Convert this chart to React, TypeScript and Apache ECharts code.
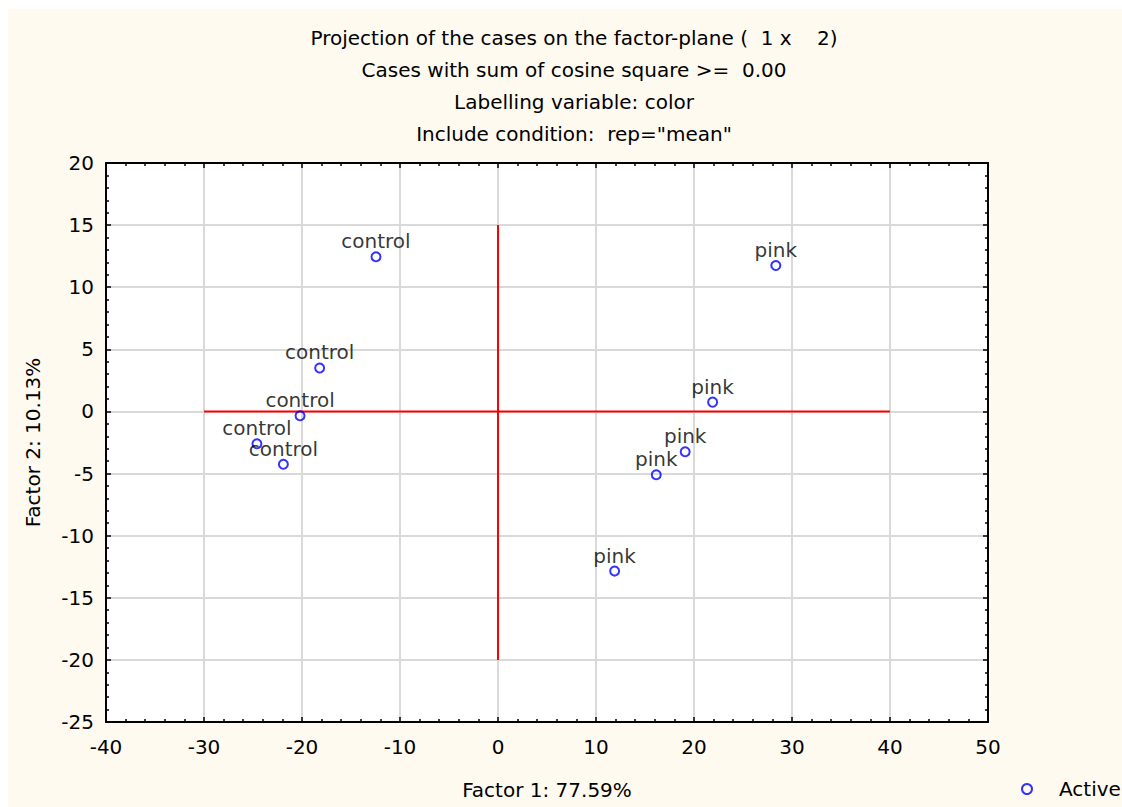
import React, { useEffect, useRef } from "react";
import * as echarts from "echarts";

const titleLines = [
  "Projection of the cases on the factor-plane (  1 x    2)",
  "Cases with sum of cosine square >=  0.00",
  "Labelling variable: color",
  'Include condition:  rep="mean"',
];

const caseLabels = [
  "control", "control", "control", "control", "control",
  "pink", "pink", "pink", "pink", "pink",
];
const factor1 = [-12.45, -18.2, -20.2, -24.6, -21.9, 28.35, 21.9, 19.1, 16.15, 11.9];
const factor2 = [12.45, 3.5, -0.35, -2.6, -4.25, 11.75, 0.75, -3.25, -5.1, -12.85];

const hLine = [[-30, 0], [40, 0]];
const vLine = [[0, 15], [0, -20]];

const xTicks = { min: -40, max: 50, interval: 10 };
const yTicks = { min: -25, max: 20, interval: 5 };

const FONT = "DejaVu Sans";

export default function App() {
  const ref = useRef<HTMLDivElement>(null);

  useEffect(() => {
    if (!ref.current) return;
    const chart = echarts.init(ref.current, undefined, { renderer: "svg" });

    const axisCommon = (extra: any) => ({
      type: "value",
      axisLine: { onZero: false, lineStyle: { color: "#000", width: 2 } },
      axisTick: { inside: true, length: 5, lineStyle: { color: "#000", width: 1.5 } },
      minorTick: { show: true, splitNumber: 5, length: 3, lineStyle: { color: "#000", width: 1.5 } },
      ...extra,
    });

    const grid = { left: 98, top: 154, width: 882, height: 559 };

    chart.setOption({
      animation: false,
      backgroundColor: "#FFFAF0",
      textStyle: { fontFamily: FONT },
      grid: { ...grid, show: true, backgroundColor: "#ffffff", borderWidth: 0 },
      graphic: titleLines.map((t, i) => ({
        type: "text",
        x: 566,
        y: 29 + i * 32,
        style: {
          text: t,
          fill: "#000",
          font: `20px "${FONT}"`,
          textAlign: "center",
          textVerticalAlign: "middle",
        },
      })),
      legend: {
        data: ["Active"],
        left: 1008,
        top: 765,
        itemWidth: 10,
        itemHeight: 10,
        textStyle: { fontSize: 20, fontFamily: FONT, color: "#000", padding: [0, 0, 0, 22] },
      },
      xAxis: [
        axisCommon({
          ...xTicks,
          position: "bottom",
          name: "Factor 1: 77.59%",
          nameLocation: "middle",
          nameGap: 58,
          nameTextStyle: { fontSize: 20, color: "#000", fontFamily: FONT },
          splitLine: { show: true, lineStyle: { color: "#d9d9d9", width: 2 } },
          axisLabel: { fontSize: 20, color: "#000", margin: 15, fontFamily: FONT },
        }),
        axisCommon({
          ...xTicks,
          position: "top",
          splitLine: { show: false },
          axisLabel: { show: false },
        }),
      ],
      yAxis: [
        axisCommon({
          ...yTicks,
          position: "left",
          name: "Factor 2: 10.13%",
          nameLocation: "middle",
          nameGap: 63,
          nameTextStyle: { fontSize: 20, color: "#000", fontFamily: FONT },
          splitLine: { show: true, lineStyle: { color: "#d9d9d9", width: 2 } },
          axisLabel: { fontSize: 20, color: "#000", margin: 12, fontFamily: FONT },
        }),
        axisCommon({
          ...yTicks,
          position: "right",
          splitLine: { show: false },
          axisLabel: { show: false },
        }),
      ],
      series: [
        {
          type: "line",
          name: "h",
          data: hLine,
          symbol: "none",
          silent: true,
          z: 3,
          lineStyle: { color: "#ff0000", width: 2 },
        },
        {
          type: "line",
          name: "v",
          data: vLine,
          symbol: "none",
          silent: true,
          z: 3,
          lineStyle: { color: "#ff0000", width: 2 },
        },
        {
          type: "scatter",
          name: "Active",
          z: 5,
          symbol: "circle",
          symbolSize: 9,
          data: factor1.map((x, i) => ({ value: [x, factor2[i]], name: caseLabels[i] })),
          itemStyle: { color: "rgba(255,255,255,0)", borderColor: "#0000ff", borderWidth: 2 },
          label: {
            show: true,
            position: "top",
            distance: 0,
            formatter: "{b}",
            fontSize: 20,
            fontFamily: FONT,
            color: "#000",
          },
          labelLayout: { hideOverlap: false },
        },
      ],
    });

    return () => chart.dispose();
  }, []);

  return (
    <div
      ref={ref}
      style={{ position: "fixed", left: 8, top: 9, width: 1114, height: 798 }}
    />
  );
}
